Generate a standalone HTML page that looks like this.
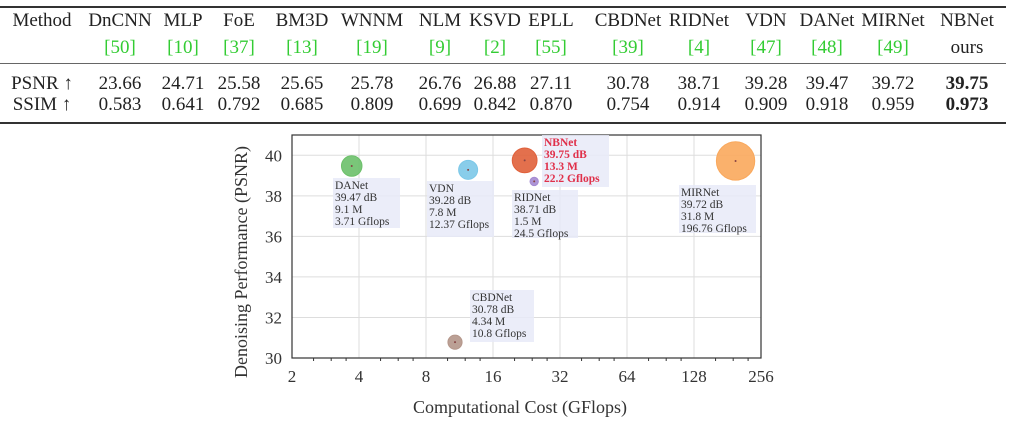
<!DOCTYPE html>
<html><head><meta charset="utf-8">
<style>
body{margin:0;background:#fff;width:1014px;height:422px;overflow:hidden;position:relative;font-family:"Liberation Serif",serif;color:#222}
.c{position:absolute;font-size:19px;transform:translateX(-50%);white-space:nowrap;line-height:22px}
.g{color:#33cc33}
.hl{position:absolute;left:0;width:1006px;background:#333}
</style></head><body>
<div>
<div class="hl" style="top:6px;height:2px"></div>
<div class="hl" style="top:63px;height:1px;background:#666"></div>
<div class="hl" style="top:122px;height:2px"></div>
<div id="tbl"></div>
</div>
<svg id="chart" width="1014" height="422" style="position:absolute;left:0;top:0"></svg>
<script>
const methods=["DnCNN","MLP","FoE","BM3D","WNNM","NLM","KSVD","EPLL","CBDNet","RIDNet","VDN","DANet","MIRNet","NBNet"];
const refs=["[50]","[10]","[37]","[13]","[19]","[9]","[2]","[55]","[39]","[4]","[47]","[48]","[49]","ours"];
const psnrRow=["23.66","24.71","25.58","25.65","25.78","26.76","26.88","27.11","30.78","38.71","39.28","39.47","39.72","39.75"];
const ssimRow=["0.583","0.641","0.792","0.685","0.809","0.699","0.842","0.870","0.754","0.914","0.909","0.918","0.959","0.973"];
const colX=[120,183,239,302,372,440,495,551,628,699,766,827,893,967];
const tbl=document.getElementById('tbl');
function cell(x,y,txt,cls,name,bold){const d=document.createElement('div');d.className='c'+(cls?' '+cls:'');d.style.left=x+'px';d.style.top=y+'px';d.textContent=txt;if(bold)d.style.fontWeight='bold';


tbl.appendChild(d);}
cell(42,10,"Method","","header-method");
cell(42,73,"PSNR ↑","","row-label-psnr");
cell(42,94,"SSIM ↑","","row-label-ssim");
methods.forEach((m,i)=>{const k=m.toLowerCase();cell(colX[i],10,m,"","header-"+k);
cell(colX[i],37,refs[i],refs[i]==="ours"?"":"g","ref-"+k);
cell(colX[i],73,psnrRow[i],"","psnr-"+k,i===13);
cell(colX[i],94,ssimRow[i],"","ssim-"+k,i===13);});

// chart
const names=["DANet","VDN","NBNet","RIDNet","MIRNet","CBDNet"];
const flops=[3.71,12.37,22.2,24.5,196.76,10.8];
const psnr=[39.47,39.28,39.75,38.71,39.72,30.78];
const params=[9.1,7.8,13.3,1.5,31.8,4.34];
const xTicks=[2,4,8,16,32,64,128,256];
const yTicks=[30,32,34,36,38,40];
const colors=["#6cc06a","#7cc8e8","#e0603a","#a48ad2","#f9a85c","#b4968a"];
const boxes=[[333,178,67,50],[427,181,67,56],[542,135,67,52],[512,190,66,48],[679,185,77,48],[470,290,64,52]];
const L=292,R=761,T=135,B=358;
const X=v=>L+(Math.log2(v)-1)/7*(R-L);
const Y=v=>B-(v-30)/11*(B-T);
const s=document.getElementById('chart');const NS="http://www.w3.org/2000/svg";
function el(t,a,p){const e=document.createElementNS(NS,t);for(const k in a)e.setAttribute(k,a[k]);(p||s).appendChild(e);return e;}
xTicks.forEach(v=>{const g=el('line',{x1:X(v),x2:X(v),y1:T,y2:B,stroke:'#ddd','stroke-width':1});


const t=el('text',{x:X(v),y:B+24,'text-anchor':'middle','font-size':17,fill:'#333','font-family':'Liberation Serif'});t.textContent=v;


if(v<256)[1.25,1.5,1.75].forEach(f=>{const m=el('line',{x1:X(v*f),x2:X(v*f),y1:B,y2:B+3,stroke:'#333'});

});});
yTicks.forEach(v=>{const g=el('line',{x1:L,x2:R,y1:Y(v),y2:Y(v),stroke:'#ddd'});


const t=el('text',{x:L-10,y:Y(v)+6,'text-anchor':'end','font-size':17,fill:'#333','font-family':'Liberation Serif'});t.textContent=v;

});
const fr=el('rect',{x:L,y:T,width:R-L,height:B-T,fill:'none',stroke:'#333','stroke-width':1.2});


names.forEach((n,i)=>{const cx=X(flops[i]),cy=Y(psnr[i]);
const c=el('circle',{cx:cx,cy:cy,r:3.4*Math.sqrt(params[i]),fill:colors[i],'fill-opacity':0.9,stroke:colors[i]});


el('circle',{cx:cx,cy:cy,r:1,fill:'#844'});
const b=boxes[i];const r=el('rect',{x:b[0],y:b[1],width:b[2],height:b[3],fill:'#e8eaf8','fill-opacity':0.85});


const lines=[n,psnr[i].toFixed(2)+" dB",params[i]+" M",flops[i]+" Gflops"];
const red=n==="NBNet";
lines.forEach((ln,j)=>{const t=el('text',{x:b[0]+2,y:b[1]+11+j*12,'font-size':11.5,fill:red?'#e0304a':'#333','font-weight':red?'bold':'normal','font-family':'Liberation Serif'});t.textContent=ln;

});});
const xt=el('text',{x:520,y:413,'text-anchor':'middle','font-size':18,fill:'#333','font-family':'Liberation Serif'});xt.textContent="Computational Cost (GFlops)";


const yt=el('text',{x:0,y:0,transform:'translate(247,262) rotate(-90)','text-anchor':'middle','font-size':18,fill:'#333','font-family':'Liberation Serif'});yt.textContent="Denoising Performance (PSNR)";


</script>
</body></html>
